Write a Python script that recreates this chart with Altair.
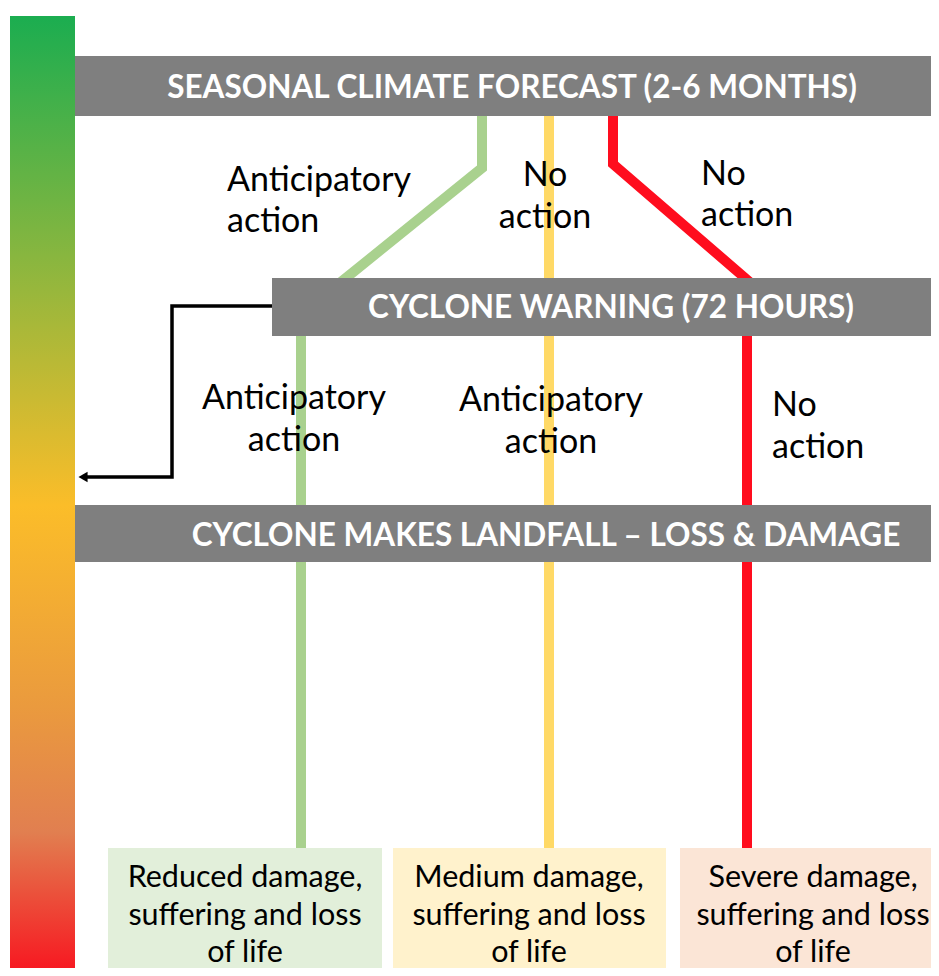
import altair as alt
import pandas as pd

# ---------------- data ----------------
# stage bars (grey)
stage_labels = ["SEASONAL CLIMATE FORECAST (2-6 MONTHS)",
                "CYCLONE WARNING (72 HOURS)",
                "CYCLONE MAKES LANDFALL – LOSS & DAMAGE"]
stage_x0 = [75, 272, 75]
stage_x1 = [939, 939, 939]
stage_y0 = [56, 278, 505]
stage_y1 = [116, 336, 562]
stage_tx = [512, 611, 546]
stage_ty = [89, 309, 537]

# pathway lines (polyline vertices)
path_id = ["g1", "g1", "g1", "g2", "g2", "y1", "y1", "r1", "r1", "r1", "r2", "r2"]
path_ord = [0, 1, 2, 0, 1, 0, 1, 0, 1, 2, 0, 1]
path_x = [482, 482, 336, 301, 301, 549, 549, 613, 613, 752, 747, 747]
path_y = [116, 168, 286, 335, 849, 116, 849, 116, 164, 284, 335, 849]
path_color = {"g1": "#A9D18E", "g2": "#A9D18E", "y1": "#FFD966",
              "r1": "#FF0D1E", "r2": "#FF0D1E"}

# feedback arrow
arrow_ord = [0, 1, 2, 3]
arrow_x = [272, 172, 172, 86]
arrow_y = [306, 306, 477, 477]
arrow_head_x = [83]
arrow_head_y = [477]

# action labels
left_text = ["Anticipatory", "action", "No", "action", "No", "action"]
left_x = [227, 227, 701, 701, 772, 772]
left_y = [181, 222, 175, 216, 406, 448]
center_text = ["No", "action", "Anticipatory", "action", "Anticipatory", "action"]
center_x = [545, 545, 294, 294, 551, 551]
center_y = [176, 218, 399, 441, 401, 443]

# outcome boxes
box_x0 = [108, 393, 680]
box_x1 = [382, 666, 939]
box_y0 = [848, 848, 848]
box_y1 = [976, 976, 976]
box_fill = ["#E2EFDA", "#FFF2CC", "#FBE5D6"]
box_lines = [["Reduced damage,", "suffering and loss", "of life"],
             ["Medium damage,", "suffering and loss", "of life"],
             ["Severe damage,", "suffering and loss", "of life"]]
box_cx = [245, 529, 813]
box_line_y = [878, 916, 953]

# gradient scale bar
grad_x0, grad_x1, grad_y0, grad_y1 = [10], [75], [16], [976]

# ---------------- frames ----------------
W, H = 923, 960
xs = alt.Scale(domain=[8, 8 + W], nice=False, zero=False)
ys = alt.Scale(domain=[8, 8 + H], nice=False, zero=False, reverse=True)

stages = pd.DataFrame({"label": stage_labels, "x0": stage_x0, "x1": stage_x1,
                       "y0": stage_y0, "y1": stage_y1, "tx": stage_tx, "ty": stage_ty})
paths = pd.DataFrame({"pid": path_id, "o": path_ord, "x": path_x, "y": path_y})
paths["c"] = paths["pid"].map(path_color)
arrow = pd.DataFrame({"o": arrow_ord, "x": arrow_x, "y": arrow_y, "pid": "a"})
head = pd.DataFrame({"x": arrow_head_x, "y": arrow_head_y})
lefts = pd.DataFrame({"t": left_text, "x": left_x, "y": left_y})
centers = pd.DataFrame({"t": center_text, "x": center_x, "y": center_y})
boxes = pd.DataFrame({"x0": box_x0, "x1": box_x1, "y0": box_y0, "y1": box_y1, "c": box_fill})
btxt = pd.DataFrame([{"t": line, "x": box_cx[i], "y": box_line_y[j]}
                     for i, lines in enumerate(box_lines) for j, line in enumerate(lines)])
grad = pd.DataFrame({"x0": grad_x0, "x1": grad_x1, "y0": grad_y0, "y1": grad_y1})

FONT = "Lato"

gradient_bar = alt.Chart(grad).mark_rect(
    color=alt.Gradient(
        gradient="linear", x1=0, x2=0, y1=0, y2=1,
        stops=[alt.GradientStop(offset=0.0, color="#1BAD50"),
               alt.GradientStop(offset=0.25, color="#88B63F"),
               alt.GradientStop(offset=0.51, color="#FBBD29"),
               alt.GradientStop(offset=0.72, color="#EA9A3E"),
               alt.GradientStop(offset=0.85, color="#E17F50"),
               alt.GradientStop(offset=1.0, color="#F8141F")])
).encode(x=alt.X("x0:Q", scale=xs, axis=None), x2="x1",
         y=alt.Y("y0:Q", scale=ys, axis=None), y2="y1")

lines = alt.Chart(paths).mark_line(strokeWidth=10, strokeCap="butt", strokeJoin="miter").encode(
    x=alt.X("x:Q", scale=xs, axis=None), y=alt.Y("y:Q", scale=ys, axis=None),
    detail="pid:N", order="o:Q", color=alt.Color("c:N", scale=None))

stage_rects = alt.Chart(stages).mark_rect(color="#7F7F7F").encode(
    x=alt.X("x0:Q", scale=xs, axis=None), x2="x1",
    y=alt.Y("y0:Q", scale=ys, axis=None), y2="y1")
stage_text = alt.Chart(stages).mark_text(font=FONT, fontSize=31.5, fontWeight="bold",
                                         color="white", baseline="middle", align="center").encode(
    x=alt.X("tx:Q", scale=xs, axis=None), y=alt.Y("ty:Q", scale=ys, axis=None), text="label:N")

arrow_line = alt.Chart(arrow).mark_line(strokeWidth=3.5, color="black", strokeJoin="miter").encode(
    x=alt.X("x:Q", scale=xs, axis=None), y=alt.Y("y:Q", scale=ys, axis=None), order="o:Q")
arrow_head = alt.Chart(head).mark_point(shape="triangle-left", filled=True, color="black",
                                        size=110, opacity=1).encode(
    x=alt.X("x:Q", scale=xs, axis=None), y=alt.Y("y:Q", scale=ys, axis=None))

left_labels = alt.Chart(lefts).mark_text(font=FONT, fontSize=34, color="black",
                                         align="left", baseline="middle").encode(
    x=alt.X("x:Q", scale=xs, axis=None), y=alt.Y("y:Q", scale=ys, axis=None), text="t:N")
center_labels = alt.Chart(centers).mark_text(font=FONT, fontSize=34, color="black",
                                             align="center", baseline="middle").encode(
    x=alt.X("x:Q", scale=xs, axis=None), y=alt.Y("y:Q", scale=ys, axis=None), text="t:N")

box_rects = alt.Chart(boxes).mark_rect().encode(
    x=alt.X("x0:Q", scale=xs, axis=None), x2="x1",
    y=alt.Y("y0:Q", scale=ys, axis=None), y2="y1", color=alt.Color("c:N", scale=None))
box_text = alt.Chart(btxt).mark_text(font=FONT, fontSize=30.5, color="black",
                                     align="center", baseline="middle").encode(
    x=alt.X("x:Q", scale=xs, axis=None), y=alt.Y("y:Q", scale=ys, axis=None), text="t:N")

chart = alt.layer(
    gradient_bar, lines, stage_rects, stage_text, arrow_line, arrow_head,
    left_labels, center_labels, box_rects, box_text
).properties(
    width=W, height=H, padding=0, background="white",
    autosize=alt.AutoSizeParams(type="none")
).configure_view(stroke=None)

chart.save("out.html", embed_options={"renderer": "svg", "actions": False})
